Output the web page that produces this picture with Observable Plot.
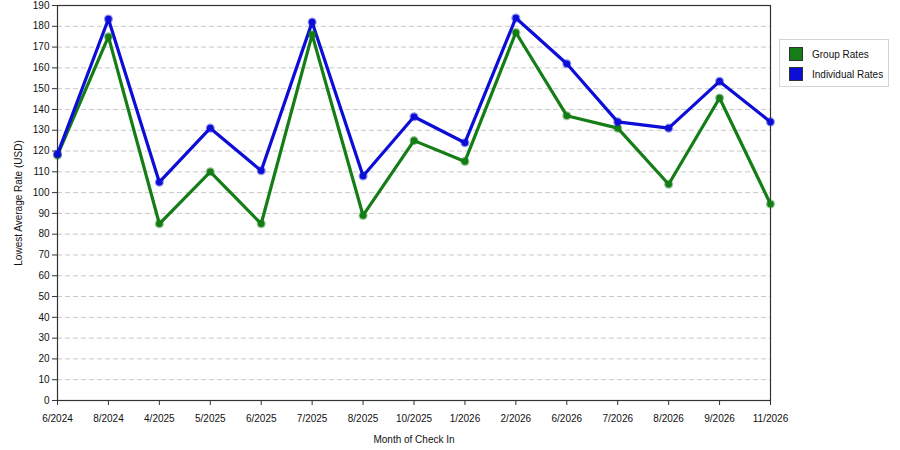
<!DOCTYPE html>
<html>
<head>
<meta charset="utf-8">
<script src="https://cdn.jsdelivr.net/npm/d3@7"></script>
<script src="https://cdn.jsdelivr.net/npm/@observablehq/plot@0.6"></script>
<style>
  body { margin: 0; background: #fff; }
  #wrap { position: relative; width: 900px; height: 450px; font-family: "Liberation Sans", Arial, sans-serif; }
  #legend { position: absolute; left: 779px; top: 39px; width: 108px; height: 46px; border: 1px solid #d4d4d4; background: #fff; font-size: 10px; color: #111; }
  .item { position: absolute; left: 9px; display: flex; align-items: center; }
  .sw { width: 12px; height: 12px; border: 1px solid #333; margin-right: 9px; }
</style>
</head>
<body>
<div id="wrap"><div id="legend"></div></div>
<script>
const months = ["6/2024","8/2024","4/2025","5/2025","6/2025","7/2025","8/2025","10/2025","1/2026","2/2026","6/2026","7/2026","8/2026","9/2026","11/2026"];
const groupRates = [118, 175, 85, 110, 85, 176, 89, 125, 115, 177, 137, 131, 104, 145.5, 94.5];
const individualRates = [118.5, 183.5, 105, 131, 110.5, 182, 108, 136.5, 124, 184, 162, 134, 131, 153.5, 134];
const seriesNames = ["Group Rates", "Individual Rates"];
const seriesColors = ["#157d15", "#0d0dd8"];
const yTicks = d3.range(0, 191, 10);
const gridTicks = d3.range(10, 190, 10);

const data = [];
months.forEach((m, i) => {
  data.push({month: m, value: groupRates[i], series: seriesNames[0]});
  data.push({month: m, value: individualRates[i], series: seriesNames[1]});
});

const chart = Plot.plot({
  width: 900,
  height: 450,
  marginLeft: 57,
  marginRight: 130,
  marginTop: 5,
  marginBottom: 50,
  style: {fontFamily: "'Liberation Sans', Arial, sans-serif", fontSize: "10px", color: "#111", background: "#fff"},
  x: {type: "point", domain: months, padding: 0, round: false},
  y: {domain: [0, 190]},
  color: {domain: seriesNames, range: seriesColors},
  marks: [
    Plot.ruleY(gridTicks, {stroke: "#c8c8c8", strokeDasharray: "5,3", strokeWidth: 1}),
    Plot.frame({stroke: "#333", strokeWidth: 1.2}),
    Plot.axisY({ticks: yTicks, tickSize: 5, tickPadding: 3, stroke: "#333", label: "Lowest Average Rate (USD)", labelAnchor: "center", labelArrow: "none", labelOffset: 43, fontSize: 10}),
    Plot.axisX({tickSize: 5, tickPadding: 9, stroke: "#333", label: "Month of Check In", labelAnchor: "center", labelArrow: "none", labelOffset: 42, fontSize: 10}),
    Plot.line(data, {x: "month", y: "value", stroke: "series", strokeWidth: 3.2, strokeLinejoin: "round"}),
    Plot.dot(data, {x: "month", y: "value", fill: "series", r: 3.3, stroke: "series", strokeOpacity: 0.45, strokeWidth: 2.5})
  ]
});
document.getElementById("wrap").prepend(chart);
chart.style.position = "absolute";
chart.style.left = "0";
chart.style.top = "0";

const legend = document.getElementById("legend");
seriesNames.forEach((name, i) => {
  const item = document.createElement("div");
  item.className = "item";
  item.style.top = (7 + i * 20) + "px";
  const sw = document.createElement("div");
  sw.className = "sw";
  sw.style.background = seriesColors[i];
  const t = document.createElement("span");
  t.textContent = name;
  item.appendChild(sw);
  item.appendChild(t);
  legend.appendChild(item);
});
</script>
</body>
</html>
